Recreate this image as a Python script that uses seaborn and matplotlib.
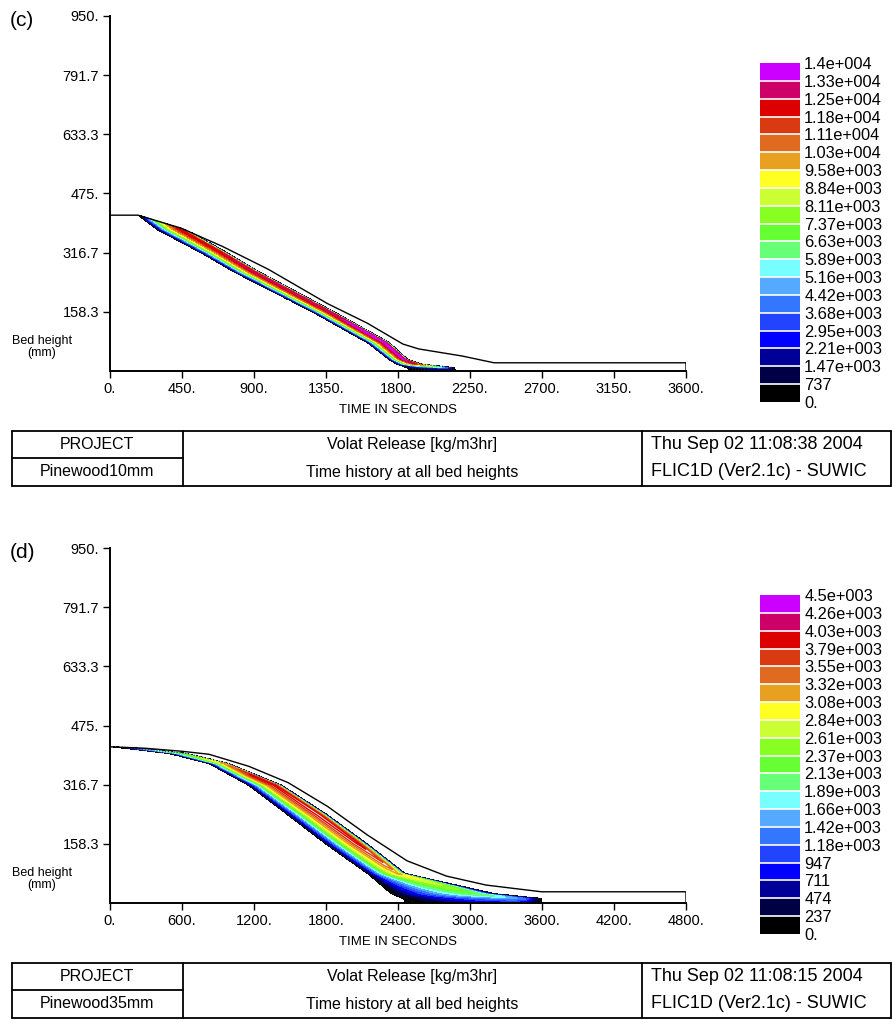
import numpy as np
import matplotlib
matplotlib.use('Agg')
import matplotlib.pyplot as plt
import seaborn as sns
from matplotlib.colors import ListedColormap, BoundaryNorm
import matplotlib.cm as cm

sns.set_theme(style='white')
plt.rcParams['font.family'] = ['Liberation Sans', 'DejaVu Sans']
plt.rcParams['text.color'] = 'black'

# ---------------- data ----------------
# legend box colours, lowest (0.) to highest
band_colors = ['#000000', '#000044', '#000099', '#0000ff', '#2244ff', '#3377ff', '#55aaff',
               '#77ffff', '#66ff77', '#66ff33', '#88ff22', '#ccff33', '#ffff22', '#e8a020',
               '#e06a20', '#d93a12', '#dd0000', '#cc0066', '#cc00ff']

levels_c = [0, 737, 1474, 2211, 2947, 3684, 4421, 5158, 5895, 6632, 7368, 8105, 8842,
            9579, 10316, 11053, 11789, 12526, 13263, 14000]
labels_c = ['0.', '737', '1.47e+003', '2.21e+003', '2.95e+003', '3.68e+003', '4.42e+003',
            '5.16e+003', '5.89e+003', '6.63e+003', '7.37e+003', '8.11e+003', '8.84e+003',
            '9.58e+003', '1.03e+004', '1.11e+004', '1.18e+004', '1.25e+004', '1.33e+004',
            '1.4e+004']
levels_d = [0, 237, 474, 711, 947, 1184, 1421, 1658, 1895, 2132, 2368, 2605, 2842, 3079,
            3316, 3553, 3789, 4026, 4263, 4500]
labels_d = ['0.', '237', '474', '711', '947', '1.18e+003', '1.42e+003', '1.66e+003',
            '1.89e+003', '2.13e+003', '2.37e+003', '2.61e+003', '2.84e+003', '3.08e+003',
            '3.32e+003', '3.55e+003', '3.79e+003', '4.03e+003', '4.26e+003', '4.5e+003']

ytick_vals = [158.3, 316.7, 475.0, 633.3, 791.7, 950.0]
ytick_labels = ['158.3', '316.7', '475.', '633.3', '791.7', '950.']
xtick_c = [0, 450, 900, 1350, 1800, 2250, 2700, 3150, 3600]
xtick_labels_c = ['0.', '450.', '900.', '1350.', '1800.', '2250.', '2700.', '3150.', '3600.']
xtick_d = [0, 600, 1200, 1800, 2400, 3000, 3600, 4200, 4800]
xtick_labels_d = ['0.', '600.', '1200.', '1800.', '2400.', '3000.', '3600.', '4200.', '4800.']

# release profile across the reaction band (fraction of band width -> fraction of peak)
prof_u = [0.0, 0.04, 0.12, 0.30, 0.50, 0.68, 0.80, 0.88, 0.95, 1.0]
prof_r = [0.0, 0.06, 0.20, 0.48, 0.75, 0.92, 1.0, 0.85, 0.35, 0.0]

# panel (c): Pinewood10mm
edge_h_c = [0, 3, 9, 18, 31, 76, 156, 267, 318, 378, 417]
front_t_c = [1870, 1870, 1855, 1794, 1744, 1608, 1274, 767, 562, 297, 175]
upper_t_c = [2160, 2160, 2150, 1950, 1860, 1745, 1410, 925, 725, 478, 280]
peak_h_c = [0, 4, 7, 10, 14, 20, 31, 60, 110, 160, 250, 380, 405, 417]
peak_v_c = [0, 0, 2500, 5000, 9000, 12500, 13600, 13800, 13700, 13000, 12800, 12300, 9500, 4000]
top_t_c = [0, 175, 445, 700, 990, 1361, 1608, 1831, 1930, 2202, 2400, 3600]
top_h_c = [417, 417, 382, 334, 272, 180, 128, 72, 59, 40, 22, 22]

# panel (d): Pinewood35mm
edge_h_d = [0, 3, 12, 25, 79, 154, 235, 315, 373, 400, 418]
front_t_d = [2460, 2460, 2441, 2343, 2145, 1815, 1485, 1155, 825, 495, 20]
upper_t_d = [3600, 3600, 3596, 3200, 2460, 2160, 1815, 1430, 990, 640, 120]
peak_h_d = [0, 2, 6, 12, 20, 40, 65, 100, 160, 250, 340, 370, 390, 405, 418]
peak_v_d = [0, 600, 1100, 1500, 2000, 2500, 2900, 3500, 3900, 4000, 3900, 3300, 2600, 2000, 900]
top_t_d = [0, 300, 600, 825, 1155, 1485, 1815, 2145, 2475, 2804, 3134, 3596, 4800]
top_h_d = [418, 414, 406, 398, 366, 322, 258, 182, 113, 72, 48, 30, 30]

panels = [
    dict(tag='(c)', tmax=3600, xt=xtick_c, xtl=xtick_labels_c, levels=levels_c, labels=labels_c,
         edge_h=edge_h_c, front=front_t_c, upper=upper_t_c, pk_h=peak_h_c, pk_v=peak_v_c,
         top_t=top_t_c, top_h=top_h_c, cap=19, project='Pinewood10mm',
         date='Thu Sep 02 11:08:38 2004', dy=0),
    dict(tag='(d)', tmax=4800, xt=xtick_d, xtl=xtick_labels_d, levels=levels_d, labels=labels_d,
         edge_h=edge_h_d, front=front_t_d, upper=upper_t_d, pk_h=peak_h_d, pk_v=peak_v_d,
         top_t=top_t_d, top_h=top_h_d, cap=13, project='Pinewood35mm',
         date='Thu Sep 02 11:08:15 2004', dy=532),
]

W, Hpx = 892, 1035
fig = plt.figure(figsize=(W / 100, Hpx / 100), dpi=100)
fig.patch.set_facecolor('white')


def fr(x0, y0, x1, y1):
    return [x0 / W, 1 - y1 / Hpx, (x1 - x0) / W, (y1 - y0) / Hpx]


ov = fig.add_axes([0, 0, 1, 1])
ov.set_xlim(0, W)
ov.set_ylim(Hpx, 0)
ov.axis('off')
ov.patch.set_alpha(0)

for P in panels:
    dy = P['dy']
    ax = fig.add_axes(fr(110, 16 + dy, 686, 371 + dy))
    ax.set_facecolor('white')
    tg = np.linspace(0, P['tmax'], int(P['tmax'] / 2) + 1)
    hg = np.linspace(0, 430, 861)
    T, Hh = np.meshgrid(tg, hg)
    F = np.interp(hg, P['edge_h'], P['front'])[:, None]
    U = np.interp(hg, P['edge_h'], P['upper'])[:, None]
    pk = np.interp(hg, P['pk_h'], P['pk_v'])[:, None]
    u = (T - F) / (U - F)
    Z = pk * np.interp(u, prof_u, prof_r, left=0, right=0)
    top = np.interp(tg, P['top_t'], P['top_h'])
    Z[Hh > top[None, :]] = 0
    lv = P['levels']
    cap = P['cap']
    ax.contourf(T, Hh, Z, levels=[lv[0] + 1] + lv[1:cap + 1], colors=band_colors[:cap])
    if cap < 19:
        ax.contour(T, Hh, Z, levels=lv[cap:19], colors=band_colors[cap:19], linewidths=1.0)
    ax.contour(T, Hh, Z, levels=[lv[1] * 0.3], colors=['#222222'], linewidths=0.8,
               linestyles=':')
    sns.lineplot(x=P['top_t'] + [P['tmax']], y=P['top_h'] + [0], sort=False, estimator=None,
                 color='black', linewidth=1.0, ax=ax)
    ax.set_xlim(0, P['tmax'])
    ax.set_ylim(0, 950)
    ax.set_xticks(P['xt'])
    ax.set_xticklabels(P['xtl'])
    ax.set_yticks(ytick_vals)
    ax.set_yticklabels(ytick_labels)
    ax.set_xlabel('')
    ax.set_ylabel('')
    for s in ['top', 'right']:
        ax.spines[s].set_visible(False)
    for s in ['left', 'bottom']:
        ax.spines[s].set_visible(True)
        ax.spines[s].set_color('black')
        ax.spines[s].set_linewidth(1.4)
    ax.tick_params(axis='both', bottom=True, left=True, direction='out', length=5, width=1,
                   colors='black', labelsize=10.5, pad=3)
    ax.grid(False)

    # colour legend
    cax = fig.add_axes(fr(760, 63 + dy, 800, 402 + dy))
    sm = cm.ScalarMappable(norm=BoundaryNorm(lv, 19), cmap=ListedColormap(band_colors))
    cb = fig.colorbar(sm, cax=cax, ticks=lv, drawedges=True)
    cb.ax.set_yticklabels(P['labels'])
    cb.outline.set_visible(False)
    cb.dividers.set_color('white')
    cb.dividers.set_linewidth(1.2)
    cb.ax.tick_params(length=0, labelsize=11.8, pad=3, colors='black')

    # annotations
    ov.text(10, 20 + dy, P['tag'], fontsize=15, va='center', ha='left')
    ov.text(42, 347 + dy, 'Bed height\n(mm)', fontsize=9, va='center', ha='center',
            linespacing=0.9)
    ov.text(398, 410 + dy, 'TIME IN SECONDS', fontsize=9.5, va='center', ha='center')

    # title block table
    y0, ym, y1 = 431 + dy, 458 + dy, 486 + dy
    lw = 1.3
    ov.plot([12, 891], [y0, y0], color='black', lw=lw)
    ov.plot([12, 891], [y1, y1], color='black', lw=lw)
    ov.plot([12, 12], [y0, y1], color='black', lw=lw)
    ov.plot([891, 891], [y0, y1], color='black', lw=lw)
    ov.plot([183, 183], [y0, y1], color='black', lw=lw)
    ov.plot([642, 642], [y0, y1], color='black', lw=lw)
    ov.plot([12, 183], [ym, ym], color='black', lw=lw)
    ov.text(97, (y0 + ym) / 2, 'PROJECT', fontsize=11.5, ha='center', va='center')
    ov.text(97, (ym + y1) / 2, P['project'], fontsize=11.5, ha='center', va='center')
    ov.text(412, (y0 + ym) / 2, 'Volat Release [kg/m3hr]', fontsize=11.5, ha='center',
            va='center')
    ov.text(412, (ym + y1) / 2, 'Time history at all bed heights', fontsize=11.5,
            ha='center', va='center')
    ov.text(651, (y0 + ym) / 2, P['date'], fontsize=13, ha='left', va='center')
    ov.text(651, (ym + y1) / 2, 'FLIC1D (Ver2.1c) - SUWIC', fontsize=13, ha='left',
            va='center')

fig.savefig('out.png', dpi=100, facecolor='white')
